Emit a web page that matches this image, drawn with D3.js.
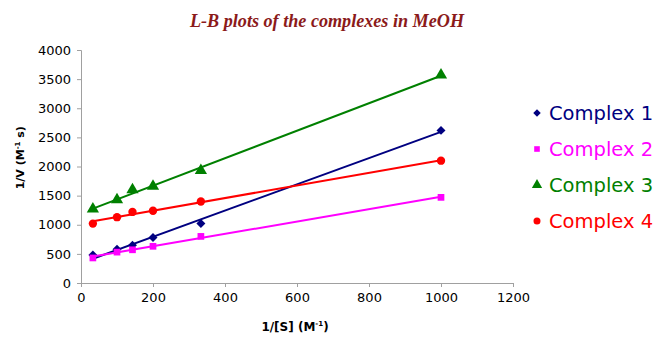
<!DOCTYPE html>
<html>
<head>
<meta charset="utf-8">
<script src="https://cdn.jsdelivr.net/npm/d3@7"></script>
<style>
  body { margin: 0; background: #fff; overflow: hidden; }
  text { font-family: "DejaVu Sans", Arial, sans-serif; }
</style>
</head>
<body>
<div id="chart"></div>
<script>
const invS = [33, 100, 143, 200, 333, 1000];
const seriesNames = ["Complex 1", "Complex 2", "Complex 3", "Complex 4"];
const complex1 = [480, 580, 650, 780, 1020, 2620];
const complex2 = [430, 530, 570, 630, 800, 1470];
const complex3 = [1270, 1430, 1600, 1660, 1930, 3570];
const complex4 = [1020, 1130, 1220, 1240, 1400, 2100];
const xTicks = [0, 200, 400, 600, 800, 1000, 1200];
const yTicks = [0, 500, 1000, 1500, 2000, 2500, 3000, 3500, 4000];

(function () {
    const w = 654, h = 340;
    const colors = ["#000080", "#ff00ff", "#008000", "#ff0000"];
    const shapes = [d3.symbolSquare, d3.symbolSquare, d3.symbolTriangle, d3.symbolCircle];
    const rotate = [45, 0, 0, 0];
    const sizes = [40, 45, 65, 55];
    const allSeries = [complex1, complex2, complex3, complex4];

    const svg = d3.select("#chart").append("svg")
        .attr("width", w)
        .attr("height", h);

    const xScale = d3.scaleLinear().domain([0, 1200]).range([81, 513]);
    const yScale = d3.scaleLinear().domain([0, 4000]).range([283, 50]);

    // title
    svg.append("text")
        .attr("x", 327).attr("y", 27)
        .attr("text-anchor", "middle")
        .attr("textLength", 274).attr("lengthAdjust", "spacingAndGlyphs")
        .style("font-family", "'Liberation Serif', 'Times New Roman', serif")
        .style("font-weight", "bold").style("font-style", "italic")
        .style("font-size", "18px")
        .attr("fill", "#8b1a1a")
        .text("L-B plots of the complexes in MeOH");

    // axes
    const xAxis = svg.append("g")
        .attr("transform", `translate(0,${yScale(0)})`)
        .call(d3.axisBottom(xScale).tickValues(xTicks).tickFormat(d3.format("d")).tickSize(4).tickPadding(6));
    const yAxis = svg.append("g")
        .attr("transform", `translate(${xScale(0)},0)`)
        .call(d3.axisLeft(yScale).tickValues(yTicks).tickFormat(d3.format("d")).tickSize(4).tickPadding(6));
    [xAxis, yAxis].forEach(a => {
        a.selectAll("path, line").attr("stroke", "#a0a0a0");
        a.selectAll("text").style("font-family", "'DejaVu Sans', sans-serif")
            .style("font-size", "13px").attr("fill", "#000");
    });

    // axis titles
    const xt = svg.append("text")
        .attr("x", 295).attr("y", 331)
        .attr("text-anchor", "middle")
        .style("font-size", "12px").style("font-weight", "bold");
    xt.append("tspan").text("1/[S] (M");
    xt.append("tspan").attr("dy", -5).style("font-size", "7px").text("-1");
    xt.append("tspan").attr("dy", 5).text(")");

    const yt = svg.append("text")
        .attr("transform", `translate(24,${yScale(2150)}) rotate(-90)`)
        .attr("text-anchor", "middle")
        .style("font-size", "11px").style("font-weight", "bold");
    yt.append("tspan").text("1/V (M");
    yt.append("tspan").attr("dy", -4).style("font-size", "7px").text("-1");
    yt.append("tspan").attr("dy", 4).text(" s)");

    // linear trend lines (least squares) and markers
    allSeries.forEach((vals, i) => {
        const pts = invS.map((x, j) => [x, vals[j]]);
        const mx = d3.mean(invS), my = d3.mean(vals);
        const slope = d3.sum(pts, p => (p[0] - mx) * (p[1] - my)) / d3.sum(pts, p => (p[0] - mx) ** 2);
        const icpt = my - slope * mx;
        const x0 = d3.min(invS), x1 = d3.max(invS);
        svg.append("line")
            .attr("x1", xScale(x0)).attr("y1", yScale(icpt + slope * x0))
            .attr("x2", xScale(x1)).attr("y2", yScale(icpt + slope * x1))
            .attr("stroke", colors[i]).attr("stroke-width", 2);
        svg.append("g").selectAll("path")
            .data(pts)
            .enter().append("path")
            .attr("transform", d => `translate(${xScale(d[0])},${yScale(d[1])}) rotate(${rotate[i]})`)
            .attr("d", d3.symbol().type(shapes[i]).size(sizes[i]))
            .attr("fill", colors[i]);
    });

    // legend
    const legend = svg.append("g");
    seriesNames.forEach((name, i) => {
        const y = 113 + i * 36;
        legend.append("path")
            .attr("transform", `translate(537,${y}) rotate(${rotate[i]})`)
            .attr("d", d3.symbol().type(shapes[i]).size(sizes[i] * 0.7))
            .attr("fill", colors[i]);
        legend.append("text")
            .attr("x", 549).attr("y", y + 7)
            .style("font-size", "19.5px")
            .attr("fill", colors[i])
            .text(name);
    });
})();
</script>
</body>
</html>
